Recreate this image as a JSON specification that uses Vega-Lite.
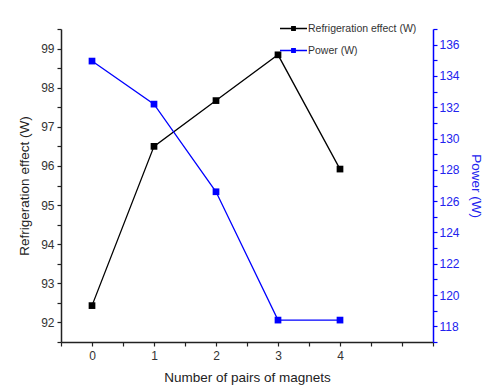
{
  "$schema": "https://vega.github.io/schema/vega-lite/v6.json",
  "width": 372,
  "height": 313,
  "autosize": {"type": "none"},
  "padding": {"left": 61, "top": 29, "right": 52, "bottom": 45},
  "background": "white",
  "config": {
    "view": {"stroke": null},
    "font": "Liberation Sans",
    "axis": {"grid": false, "labelFont": "Liberation Sans", "titleFont": "Liberation Sans", "labelFontSize": 12, "titleFontSize": 13.5, "titleFontWeight": "normal", "domainWidth": 1.5, "tickWidth": 1.2, "tickSize": 4, "labelColor": "#333", "titleColor": "#222", "domainColor": "#222", "tickColor": "#222"}
  },
  "data": {
    "values": [
      {"n": 0, "series": "Refrigeration effect (W)", "value": 92.43},
      {"n": 1, "series": "Refrigeration effect (W)", "value": 96.5},
      {"n": 2, "series": "Refrigeration effect (W)", "value": 97.67},
      {"n": 3, "series": "Refrigeration effect (W)", "value": 98.84},
      {"n": 4, "series": "Refrigeration effect (W)", "value": 95.92},
      {"n": 0, "series": "Power (W)", "value": 134.95},
      {"n": 1, "series": "Power (W)", "value": 132.2},
      {"n": 2, "series": "Power (W)", "value": 126.6},
      {"n": 3, "series": "Power (W)", "value": 118.4},
      {"n": 4, "series": "Power (W)", "value": 118.4}
    ]
  },
  "encoding": {
    "x": {
      "field": "n", "type": "quantitative",
      "scale": {"domain": [-0.5, 5.5], "nice": false, "zero": false},
      "axis": {
        "values": [-0.5, 0, 0.5, 1, 1.5, 2, 2.5, 3, 3.5, 4, 4.5, 5, 5.5],
        "labelExpr": "(datum.value % 1 === 0 && datum.value >= 0 && datum.value <= 4) ? '' + datum.value : ''",
        "title": "Number of pairs of magnets",
        "labelPadding": 4,
        "titlePadding": 9
      }
    },
    "color": {
      "field": "series", "type": "nominal",
      "scale": {"domain": ["Refrigeration effect (W)", "Power (W)"], "range": ["#000000", "#0000ff"]},
      "legend": {
        "title": null,
        "orient": "none",
        "legendX": 218,
        "legendY": -15,
        "labelFontSize": 10.5,
        "labelColor": "#333",
        "rowPadding": 2,
        "symbolType": "M-1,0H1M-0.13,-0.13H0.13V0.13H-0.13Z",
        "symbolSize": 729,
        "symbolStrokeWidth": 1.3,
        "labelOffset": 0,
        "encode": {"symbols": {"update": {"fill": {"scale": "color", "field": "value"}}}}
      }
    }
  },
  "layer": [
    {
      "transform": [{"filter": "datum.series === 'Refrigeration effect (W)'"}],
      "mark": {"type": "line", "strokeWidth": 1.3, "point": {"shape": "square", "size": 45, "filled": true, "opacity": 1}},
      "encoding": {
        "y": {
          "field": "value", "type": "quantitative",
          "scale": {"domain": [91.5, 99.5], "nice": false, "zero": false},
          "axis": {
            "orient": "left",
            "values": [91.5, 92, 92.5, 93, 93.5, 94, 94.5, 95, 95.5, 96, 96.5, 97, 97.5, 98, 98.5, 99, 99.5],
            "labelExpr": "(datum.value % 1 === 0) ? '' + datum.value : ''",
            "labelPadding": 3,
            "title": "Refrigeration effect (W)",
            "titlePadding": 9
          }
        }
      }
    },
    {
      "transform": [{"filter": "datum.series === 'Power (W)'"}],
      "mark": {"type": "line", "strokeWidth": 1.3, "point": {"shape": "square", "size": 45, "filled": true, "opacity": 1}},
      "encoding": {
        "y": {
          "field": "value", "type": "quantitative",
          "scale": {"domain": [117, 137], "nice": false, "zero": false},
          "axis": {
            "orient": "right",
            "values": [117, 118, 119, 120, 121, 122, 123, 124, 125, 126, 127, 128, 129, 130, 131, 132, 133, 134, 135, 136, 137],
            "labelExpr": "(datum.value % 2 === 0) ? '' + datum.value : ''",
            "labelPadding": 2,
            "title": "Power (W)",
            "titlePadding": 9,
            "domainColor": "#0000ff",
            "tickColor": "#0000ff",
            "labelColor": "#2222ee",
            "titleColor": "#2222ee"
          }
        }
      }
    }
  ],
  "resolve": {"scale": {"y": "independent"}}
}
